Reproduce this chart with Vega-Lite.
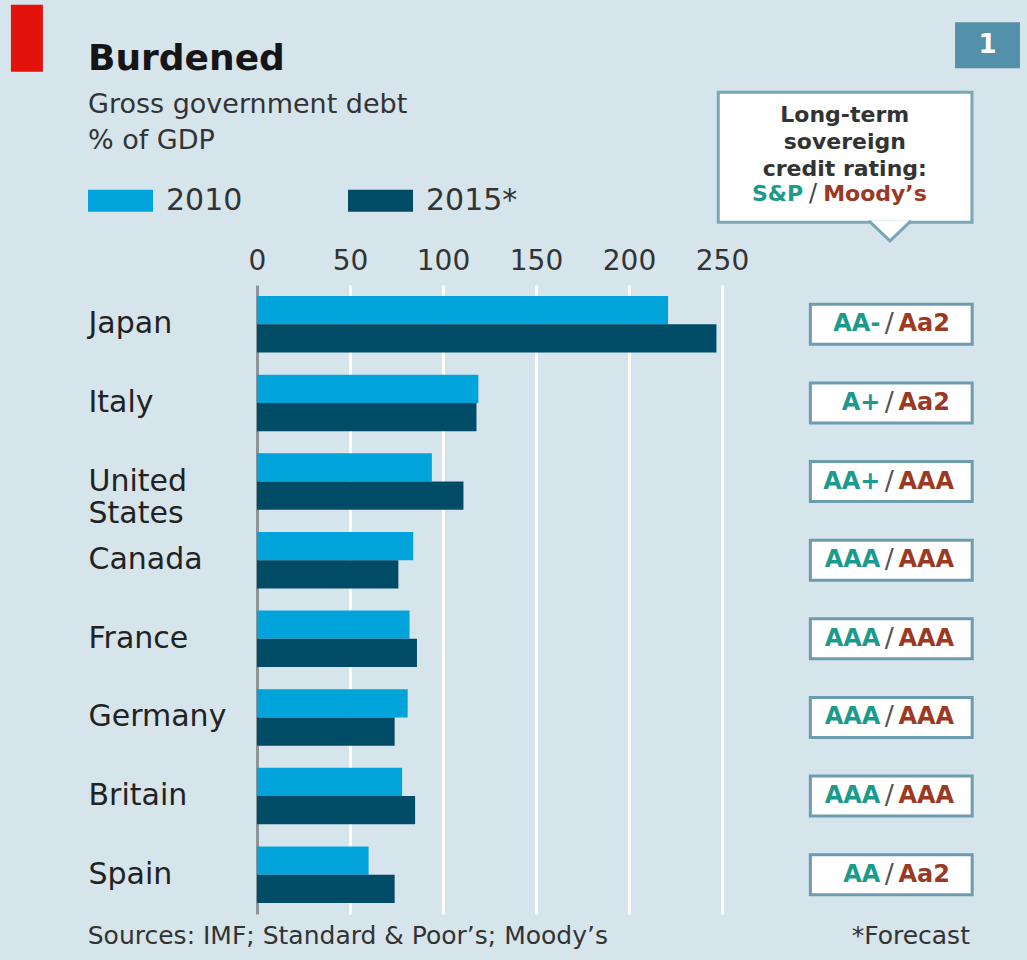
{
  "$schema": "https://vega.github.io/schema/vega-lite/v6.json",
  "autosize": {"type": "none"},
  "width": 465,
  "height": 629,
  "padding": {"left": 257, "top": 285, "right": 305, "bottom": 46},
  "background": "#d6e4ec",
  "config": {
    "view": {"stroke": null},
    "font": "DejaVu Sans"
  },
  "title": {
    "text": "Burdened",
    "subtitle": ["Gross government debt", "% of GDP"],
    "anchor": "start",
    "frame": "group",
    "orient": "top",
    "dx": -169,
    "offset": -150,
    "fontSize": 36,
    "fontWeight": "bold",
    "color": "#151515",
    "font": "DejaVu Sans",
    "subtitleFontSize": 27,
    "subtitleColor": "#333333",
    "subtitleFont": "DejaVu Sans",
    "subtitleLineHeight": 36,
    "subtitlePadding": 14
  },
  "datasets": {
    "debt": [
      {"country": "Japan", "year": "2010", "value": 221},
      {"country": "Japan", "year": "2015*", "value": 247},
      {"country": "Italy", "year": "2010", "value": 119},
      {"country": "Italy", "year": "2015*", "value": 118},
      {"country": "United States", "year": "2010", "value": 94},
      {"country": "United States", "year": "2015*", "value": 111},
      {"country": "Canada", "year": "2010", "value": 84},
      {"country": "Canada", "year": "2015*", "value": 76},
      {"country": "France", "year": "2010", "value": 82},
      {"country": "France", "year": "2015*", "value": 86},
      {"country": "Germany", "year": "2010", "value": 81},
      {"country": "Germany", "year": "2015*", "value": 74},
      {"country": "Britain", "year": "2010", "value": 78},
      {"country": "Britain", "year": "2015*", "value": 85},
      {"country": "Spain", "year": "2010", "value": 60},
      {"country": "Spain", "year": "2015*", "value": 74}
    ],
    "ratings": [
      {"country": "Japan", "sp": "AA-", "moodys": "Aa2"},
      {"country": "Italy", "sp": "A+", "moodys": "Aa2"},
      {"country": "United States", "sp": "AA+", "moodys": "AAA"},
      {"country": "Canada", "sp": "AAA", "moodys": "AAA"},
      {"country": "France", "sp": "AAA", "moodys": "AAA"},
      {"country": "Germany", "sp": "AAA", "moodys": "AAA"},
      {"country": "Britain", "sp": "AAA", "moodys": "AAA"},
      {"country": "Spain", "sp": "AA", "moodys": "Aa2"}
    ]
  },
  "layer": [
    {
      "data": {"name": "debt"},
      "mark": {"type": "bar"},
      "encoding": {
        "y": {
          "field": "country", "type": "nominal",
          "sort": ["Japan", "Italy", "United States", "Canada", "France", "Germany", "Britain", "Spain"],
          "scale": {"paddingInner": 0.28, "paddingOuter": 0.14},
          "axis": {
            "title": null, "orient": "left", "labelAlign": "left", "labelPadding": 169,
            "ticks": false, "tickSize": 0, "domain": true, "domainColor": "#8c9599", "domainWidth": 3,
            "labelFontSize": 30, "labelColor": "#222222", "labelFont": "DejaVu Sans", "labelLineHeight": 32,
            "labelExpr": "datum.value == 'United States' ? ['United', 'States'] : datum.value",
            "grid": false
          }
        },
        "x": {
          "field": "value", "type": "quantitative",
          "scale": {"domain": [0, 250], "nice": false, "zero": true},
          "axis": {
            "title": null, "orient": "top", "values": [0, 50, 100, 150, 200, 250],
            "grid": true, "gridColor": "#ffffff", "gridWidth": 3,
            "domain": false, "ticks": false, "tickSize": 0,
            "labelFontSize": 28, "labelColor": "#333333", "labelPadding": 10, "labelFont": "DejaVu Sans", "labelFlush": false
          }
        },
        "yOffset": {"field": "year", "type": "nominal", "sort": ["2010", "2015*"]},
        "color": {
          "field": "year", "type": "nominal",
          "scale": {"domain": ["2010", "2015*"], "range": ["#00a3da", "#004c66"]},
          "legend": {
            "title": null, "orient": "none", "legendX": -169, "legendY": -117, "direction": "horizontal",
            "symbolType": "M-1,-0.34H1V0.34H-1Z", "symbolSize": 4225, "symbolStrokeWidth": 0, "symbolOpacity": 1,
            "labelFontSize": 30, "labelOffset": 13, "columnPadding": 105, "padding": 0,
            "labelColor": "#333333", "labelFont": "DejaVu Sans"
          }
        }
      }
    },
    {
      "data": {"name": "ratings"},
      "mark": {"type": "bar", "height": 40, "fill": "#ffffff", "stroke": "#6d9bb0", "strokeWidth": 3},
      "encoding": {
        "y": {"field": "country", "type": "nominal", "sort": ["Japan", "Italy", "United States", "Canada", "France", "Germany", "Britain", "Spain"]},
        "x": {"datum": 297.5, "type": "quantitative"},
        "x2": {"datum": 384.5}
      }
    },
    {
      "data": {"name": "ratings"},
      "mark": {"type": "text", "align": "right", "baseline": "middle", "dx": -9, "fontSize": 24, "fontWeight": "bold", "color": "#1c9a8b"},
      "encoding": {
        "y": {"field": "country", "type": "nominal", "sort": ["Japan", "Italy", "United States", "Canada", "France", "Germany", "Britain", "Spain"]},
        "x": {"datum": 340, "type": "quantitative"},
        "text": {"field": "sp"}
      }
    },
    {
      "data": {"name": "ratings"},
      "mark": {"type": "text", "text": "/", "align": "center", "baseline": "middle", "fontSize": 27, "color": "#555555"},
      "encoding": {
        "y": {"field": "country", "type": "nominal", "sort": ["Japan", "Italy", "United States", "Canada", "France", "Germany", "Britain", "Spain"]},
        "x": {"datum": 340, "type": "quantitative"}
      }
    },
    {
      "data": {"name": "ratings"},
      "mark": {"type": "text", "align": "left", "baseline": "middle", "dx": 9, "fontSize": 24, "fontWeight": "bold", "color": "#9b3a24"},
      "encoding": {
        "y": {"field": "country", "type": "nominal", "sort": ["Japan", "Italy", "United States", "Canada", "France", "Germany", "Britain", "Spain"]},
        "x": {"datum": 340, "type": "quantitative"},
        "text": {"field": "moodys"}
      }
    },
    {
      "data": {"values": [{}]},
      "mark": {"type": "bar", "height": 130, "yOffset": -167, "fill": "#ffffff", "stroke": "#7ba6b9", "strokeWidth": 3},
      "encoding": {
        "y": {"datum": "Japan", "type": "nominal"},
        "x": {"datum": 248, "type": "quantitative"},
        "x2": {"datum": 384.4}
      }
    },
    {
      "data": {"values": [{}]},
      "mark": {"type": "point", "shape": "M-1,-0.45L0,0.5L1,-0.45", "size": 1764, "filled": true, "fill": "#ffffff", "stroke": "#7ba6b9", "strokeWidth": 3, "opacity": 1, "yOffset": -94},
      "encoding": {
        "y": {"datum": "Japan", "type": "nominal"},
        "x": {"datum": 340.3, "type": "quantitative"}
      }
    },
    {
      "data": {"values": [{}]},
      "mark": {"type": "text", "text": ["Long-term", "sovereign", "credit rating:"], "align": "center", "baseline": "alphabetic", "lineHeight": 27, "fontSize": 22, "fontWeight": "bold", "color": "#333333", "yOffset": -202},
      "encoding": {
        "y": {"datum": "Japan", "type": "nominal"},
        "x": {"datum": 316, "type": "quantitative"}
      }
    },
    {
      "data": {"values": [{}]},
      "mark": {"type": "text", "text": "S&P", "align": "right", "baseline": "alphabetic", "dx": -10, "fontSize": 22, "fontWeight": "bold", "color": "#1c9a8b", "yOffset": -123},
      "encoding": {
        "y": {"datum": "Japan", "type": "nominal"},
        "x": {"datum": 299, "type": "quantitative"}
      }
    },
    {
      "data": {"values": [{}]},
      "mark": {"type": "text", "text": "/", "align": "center", "baseline": "alphabetic", "fontSize": 24, "color": "#444444", "yOffset": -123},
      "encoding": {
        "y": {"datum": "Japan", "type": "nominal"},
        "x": {"datum": 299, "type": "quantitative"}
      }
    },
    {
      "data": {"values": [{}]},
      "mark": {"type": "text", "text": "Moody’s", "align": "left", "baseline": "alphabetic", "dx": 10, "fontSize": 22, "fontWeight": "bold", "color": "#9b3a24", "yOffset": -123},
      "encoding": {
        "y": {"datum": "Japan", "type": "nominal"},
        "x": {"datum": 299, "type": "quantitative"}
      }
    },
    {
      "data": {"values": [{}]},
      "mark": {"type": "bar", "height": 46, "yOffset": -279, "fill": "#5390a9"},
      "encoding": {
        "y": {"datum": "Japan", "type": "nominal"},
        "x": {"datum": 375.3, "type": "quantitative"},
        "x2": {"datum": 410.2}
      }
    },
    {
      "data": {"values": [{}]},
      "mark": {"type": "text", "text": "1", "align": "center", "baseline": "middle", "fontSize": 26, "fontWeight": "bold", "color": "#ffffff", "yOffset": -279},
      "encoding": {
        "y": {"datum": "Japan", "type": "nominal"},
        "x": {"datum": 392.7, "type": "quantitative"}
      }
    },
    {
      "data": {"values": [{}]},
      "mark": {"type": "bar", "height": 67, "yOffset": -286, "fill": "#e3120b"},
      "encoding": {
        "y": {"datum": "Japan", "type": "nominal"},
        "x": {"datum": -132.3, "type": "quantitative"},
        "x2": {"datum": -115.1}
      }
    },
    {
      "data": {"values": [{}]},
      "mark": {"type": "text", "text": "Sources: IMF; Standard & Poor’s; Moody’s", "align": "left", "baseline": "middle", "fontSize": 25, "color": "#333333", "yOffset": 61},
      "encoding": {
        "y": {"datum": "Spain", "type": "nominal"},
        "x": {"datum": -91, "type": "quantitative"}
      }
    },
    {
      "data": {"values": [{}]},
      "mark": {"type": "text", "text": "*Forecast", "align": "right", "baseline": "middle", "fontSize": 25, "color": "#333333", "yOffset": 61},
      "encoding": {
        "y": {"datum": "Spain", "type": "nominal"},
        "x": {"datum": 383.3, "type": "quantitative"}
      }
    }
  ]
}
